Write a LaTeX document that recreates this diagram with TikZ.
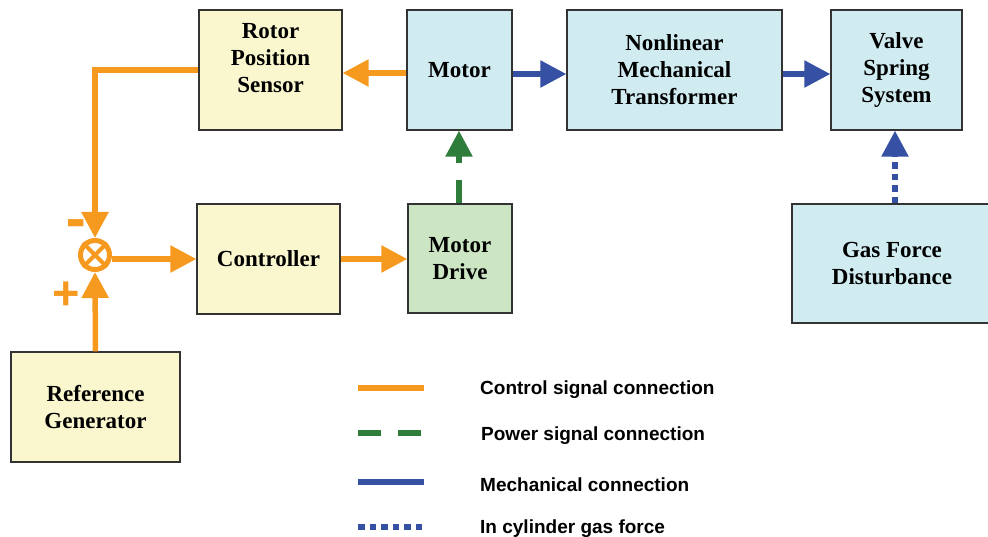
\documentclass[tikz,border=0pt]{standalone}
\usepackage{fontspec}
\setmainfont{Liberation Serif}
\newfontfamily\legendfont{Liberation Sans}
\usetikzlibrary{arrows.meta}
\definecolor{boxyellow}{HTML}{FAF7CF}
\definecolor{boxblue}{HTML}{D0ECF1}
\definecolor{boxgreen}{HTML}{CCE6C4}
\definecolor{boxborder}{HTML}{333333}
\definecolor{sigorange}{HTML}{F6991F}
\definecolor{siggreen}{HTML}{2F7D3B}
\definecolor{sigblue}{HTML}{3650A4}
\begin{document}
\begin{tikzpicture}[x=1pt,y=-1pt,
  blockfont/.style={font=\bfseries\fontsize{23}{27}\selectfont},
  blockbox/.style={draw=boxborder, line width=1.3pt, align=center, blockfont, inner sep=0pt},
  bigtip/.style={-{Triangle[length=26pt,width=26pt]}},
  ctrlline/.style={draw=sigorange, line width=5.5pt},
  powerline/.style={draw=siggreen, line width=5.5pt, dash pattern=on 23pt off 17pt},
  mechline/.style={draw=sigblue, line width=5.5pt},
  gasline/.style={draw=sigblue, line width=5.5pt, dash pattern=on 6.5pt off 5pt},
  legendtext/.style={anchor=west, font=\legendfont\bfseries\fontsize{19}{22}\selectfont, inner sep=0pt},
  signtext/.style={text=sigorange, font=\legendfont\bfseries, inner sep=0pt}]
\useasboundingbox (0,0) rectangle (988,537);

% blocks
\node[blockbox, fill=boxyellow, minimum width=143pt, minimum height=120pt] (rps) at (270.5,70) {};
\node[blockfont, align=center, inner sep=0pt] (rpstxt) at (270.5,58) {Rotor\\Position\\Sensor};
\node[blockbox, fill=boxblue, minimum width=105pt, minimum height=120pt] (motor) at (459.5,70) {Motor};
\node[blockbox, fill=boxblue, minimum width=215pt, minimum height=120pt] (nmt) at (674.5,70) {Nonlinear\\Mechanical\\Transformer};
\node[blockbox, fill=boxblue, minimum width=131pt, minimum height=120pt] (vss) at (896.5,70) {Valve\\Spring\\System};
\node[blockbox, fill=boxblue, minimum width=200pt, minimum height=119pt] (gas) at (892,263.5) {Gas Force\\Disturbance};
\node[blockbox, fill=boxyellow, minimum width=143pt, minimum height=110pt] (ctrl) at (268.5,259) {Controller};
\node[blockbox, fill=boxgreen, minimum width=104pt, minimum height=109pt] (mdrive) at (460,258.5) {Motor\\Drive};
\node[blockbox, fill=boxyellow, minimum width=169pt, minimum height=110pt] (refgen) at (95.5,407) {Reference\\Generator};

% summing junction
\node[circle, draw=sigorange, fill=white, line width=5pt, minimum size=29pt, inner sep=0pt] (sum) at (95,255) {};
\draw[sigorange, line width=4pt] (sum.north west) -- (sum.south east) (sum.north east) -- (sum.south west);
\node[signtext] (minus) at (76.5,231) {\scalebox{1.3}[3]{\fontsize{24}{24}\selectfont –}};
\node[signtext] (plus) at (66,296) {\fontsize{47}{47}\selectfont +};

% connectors
\draw[ctrlline, bigtip] (rps.west) -- (sum.north |- rps.west) -- (sum.north);
\draw[ctrlline, bigtip] (refgen.north) -- (sum.south);
\draw[ctrlline, bigtip] (sum.east |- ctrl.west) -- (ctrl.west);
\draw[ctrlline, bigtip] (ctrl.east) -- (ctrl.east -| mdrive.west);
\draw[ctrlline, bigtip] (motor.west |- 0,73) -- (rps.east |- 0,73);
\draw[powerline, bigtip] (mdrive.north -| 459,0) -- (motor.south -| 459,0);
\draw[mechline, bigtip] (motor.east |- 0,74) -- (nmt.west |- 0,74);
\draw[mechline, bigtip] (nmt.east |- 0,74) -- (vss.west |- 0,74);
\draw[gasline, bigtip] (gas.north -| 895,0) -- (vss.south -| 895,0);

% legend
\coordinate (l1a) at (358,388); \coordinate (l1b) at (424,388);
\coordinate (l2a) at (358,433); \coordinate (l2b) at (424,433);
\coordinate (l3a) at (358,482); \coordinate (l3b) at (424,482);
\coordinate (l4a) at (358,527); \coordinate (l4b) at (424,527);
\draw[ctrlline] (l1a) -- (l1b);
\draw[powerline] (l2a) -- (l2b);
\draw[mechline] (l3a) -- (l3b);
\draw[gasline] (l4a) -- (l4b);
\node[legendtext] (t1) at (480,390) {Control signal connection};
\node[legendtext] (t2) at (481,436) {Power signal connection};
\node[legendtext] (t3) at (480,485) {Mechanical connection};
\node[legendtext] (t4) at (480,529) {In cylinder gas force};
\end{tikzpicture}
\end{document}
